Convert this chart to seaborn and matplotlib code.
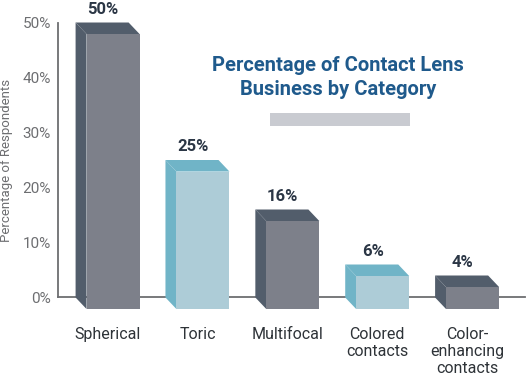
import matplotlib
matplotlib.use("Agg")
import matplotlib.pyplot as plt
from matplotlib.patches import Polygon, Rectangle
import seaborn as sns

# -----------------------------
# Data
# -----------------------------
categories = ["Spherical", "Toric", "Multifocal", "Colored\ncontacts", "Color-\nenhancing\ncontacts"]
values = [50, 25, 16, 6, 4]
value_labels = ["50%", "25%", "16%", "6%", "4%"]
y_ticks = [0, 10, 20, 30, 40, 50]
y_tick_labels = ["0%", "10%", "20%", "30%", "40%", "50%"]
shade = ["dark", "light", "dark", "light", "dark"]

front_col = {"dark": "#7b7f8c", "light": "#a6d0de"}
side_col = {"dark": "#525d6b", "light": "#70b4c7"}

FONT = ["Roboto", "DejaVu Sans"]

# -----------------------------
# Figure
# -----------------------------
sns.set_style("white")
plt.rcParams["font.family"] = FONT

fig = plt.figure(figsize=(5.27, 3.76), dpi=100)
ax = fig.add_axes([0.110, 0.1649, 0.886, 0.8045])

bar_w = 0.59
dx = 0.122   # depth offset (x, data units)
dy = 2.1     # depth offset (y, percent)

sns.barplot(x=categories, y=values, hue=categories,
            palette=[front_col[s] for s in shade],
            width=bar_w, errorbar=None, legend=False, ax=ax,
            zorder=4, linewidth=0)

# turn flat bars into 3D boxes
for p in ax.patches:
    x0, w, h = p.get_x(), p.get_width(), p.get_height()
    i = int(round(x0 + w / 2))
    bx = x0 - dx / 2
    p.set_x(bx + dx)
    p.set_y(-dy)
    c = side_col[shade[i]]
    side = Polygon([(bx, 0), (bx, h), (bx + dx, h - dy), (bx + dx, -dy)],
                   closed=True, facecolor=c, edgecolor="none", zorder=3)
    top = Polygon([(bx, h), (bx + w, h), (bx + w + dx, h - dy), (bx + dx, h - dy)],
                  closed=True, facecolor=c, edgecolor="none", zorder=3)
    ax.add_patch(side)
    ax.add_patch(top)
    ax.text(bx + w / 2 + 0.01, h + 2.4, value_labels[i], ha="center", va="center",
            fontsize=12, fontweight="bold", color="#2b3645")

ax.set_xlim(-0.552, 4.643)
ax.set_ylim(-3, 52)

# axes styling
grey = "#6d6e71"
for s in ["top", "right"]:
    ax.spines[s].set_visible(False)
ax.spines["left"].set_bounds(0, 50)
ax.spines["bottom"].set_position(("data", 0))
for s in ["left", "bottom"]:
    ax.spines[s].set_color(grey)
    ax.spines[s].set_linewidth(1.3)
    ax.spines[s].set_zorder(2)

ax.set_yticks(y_ticks)
ax.set_yticklabels(y_tick_labels)
ax.tick_params(axis="y", direction="in", length=5, width=1.2, color=grey,
               labelcolor=grey, labelsize=11, pad=5)

ax.set_xticks(range(len(categories)))
ax.set_xticklabels(categories, linespacing=1.2)
ax.set_xticks([i + 0.5 for i in range(len(categories) - 1)], minor=True)
ax.tick_params(axis="x", which="major", length=0, pad=21, labelsize=11.5,
               labelcolor="#2e3338")
ax.tick_params(axis="x", which="minor", direction="in", length=16.5, width=1.2,
               color=grey)
ax.set_xlabel("")
ax.set_ylabel("")

fig.text(0.013, 0.574, "Percentage of Respondents", rotation=90, ha="center",
         va="center", fontsize=9.5, color=grey)

# title block
fig.text(0.641, 0.793, "Percentage of Contact Lens\nBusiness by Category",
         ha="center", va="center", fontsize=14.5, fontweight="bold",
         color="#1f5a8c", linespacing=1.35)
fig.patches.append(Rectangle((0.512, 0.665), 0.2657, 0.0346,
                             transform=fig.transFigure, facecolor="#c9cbd1",
                             edgecolor="none"))

fig.savefig("out.png", dpi=100)
